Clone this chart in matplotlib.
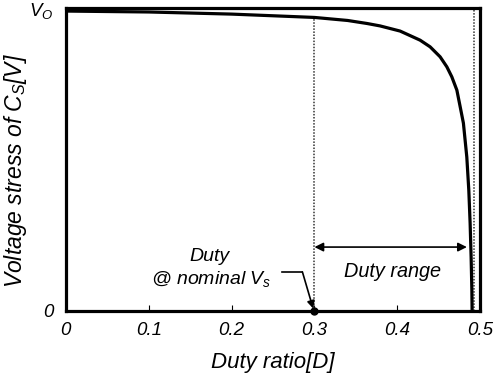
import matplotlib
matplotlib.use("Agg")
import matplotlib.pyplot as plt

plt.rcParams['font.family'] = ['Liberation Sans', 'DejaVu Sans']
plt.rcParams['font.style'] = 'italic'
plt.rcParams['mathtext.fontset'] = 'custom'
plt.rcParams['mathtext.rm'] = 'Liberation Sans'
plt.rcParams['mathtext.it'] = 'Liberation Sans:italic'

# voltage stress of Cs (normalised to Vo) vs duty ratio
duty = [0, 0.1, 0.2, 0.3, 0.34, 0.3635, 0.3792, 0.4034, 0.4275, 0.4396, 0.4517,
        0.4598, 0.4658, 0.4719, 0.4767, 0.4798, 0.4839, 0.4863, 0.4879,
        0.4891, 0.4900, 0.4903]
v_cs = [0.990, 0.987, 0.980, 0.969, 0.959, 0.949, 0.941, 0.924, 0.894, 0.872, 0.839,
        0.806, 0.773, 0.729, 0.663, 0.620, 0.508, 0.399, 0.290,
        0.178, 0.069, 0.0]
d_nominal = 0.3
d_max = 0.492
range_end = 0.484
x_ticks = [0, 0.1, 0.2, 0.3, 0.4, 0.5]
x_labels = ['0', '0.1', '0.2', '0.3', '0.4', '0.5']

fig = plt.figure(figsize=(4.95, 3.83), dpi=100)
ax = fig.add_axes([0.133, 0.188, 0.837, 0.791])

ax.plot(duty, v_cs, color='black', lw=2.3, solid_capstyle='butt', solid_joinstyle='round', zorder=3)

# dotted markers of the duty range
ax.plot([d_nominal, d_nominal], [0, v_cs[duty.index(d_nominal)]], color='#333333',
        ls=(0, (1, 1)), lw=1.1)
ax.plot([d_max, d_max], [0, 1], color='#333333', ls=(0, (1, 1)), lw=1.1)

ax.annotate('', xy=(range_end, 0.211), xytext=(d_nominal, 0.211),
            arrowprops=dict(arrowstyle='<|-|>', color='black', lw=1.2, mutation_scale=13,
                            shrinkA=0, shrinkB=0))
ax.text(0.394, 0.129, 'Duty range', ha='center', va='center', fontsize=14.3)

# nominal operating point
ax.plot([d_nominal], [0], 'o', color='black', ms=5, zorder=4, clip_on=False)
ax.plot([0.2614, 0.2855], [0.129, 0.129], color='black', lw=1.2)
ax.annotate('', xy=(d_nominal - 0.0015, 0.008), xytext=(0.2855, 0.129),
            arrowprops=dict(arrowstyle='-|>', color='black', lw=1.2, mutation_scale=11,
                            shrinkA=0, shrinkB=0))
ax.text(0.173, 0.18, 'Duty', ha='center', va='center', fontsize=14)
ax.text(0.175, 0.105, '@ nominal $V_s$', ha='center', va='center', fontsize=14)

ax.set_xlim(0, 0.5)
ax.set_ylim(0, 1)
ax.set_xticks(x_ticks)
ax.set_xticklabels(x_labels)
ax.set_yticks([0, 1])
ax.set_yticklabels(['0', r'$V_\mathrm{O}$'])
ax.tick_params(axis='x', direction='in', length=4, width=0.8, pad=8, labelsize=13.5)
ax.tick_params(axis='y', length=0, pad=9, labelsize=13.5)
for s in ax.spines.values():
    s.set_linewidth(2.3)

ax.set_xlabel('Duty ratio[D]', fontsize=16, labelpad=9)
ax.set_ylabel('Voltage stress of $C_S$[V]', fontsize=16.5)
ax.yaxis.set_label_coords(-0.09, 0.465)

fig.savefig('out.png', dpi=100)
